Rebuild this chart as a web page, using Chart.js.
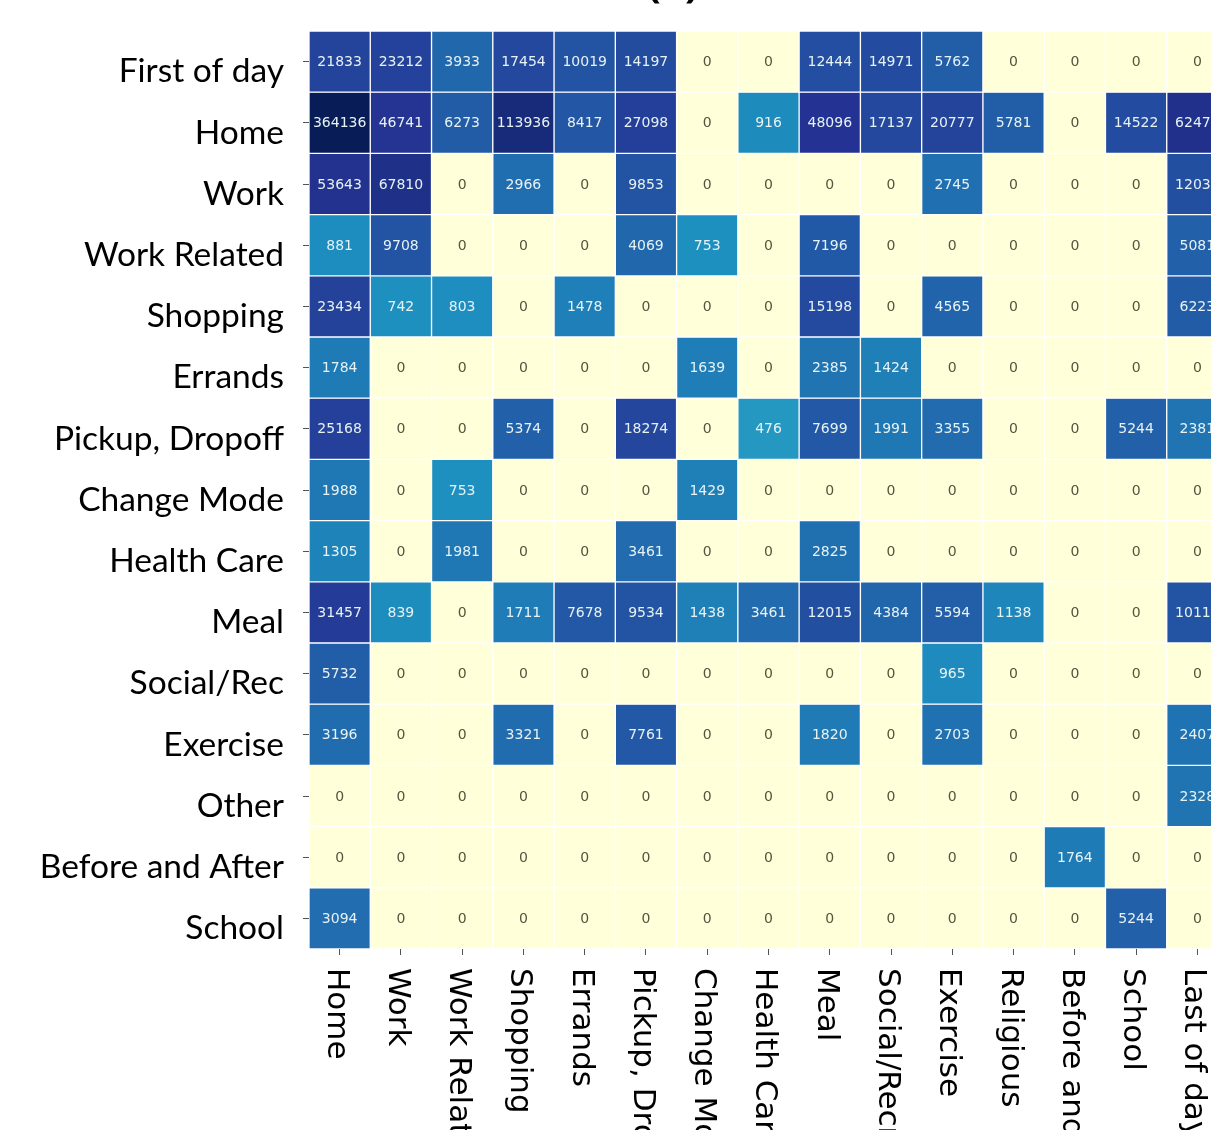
<!DOCTYPE html>
<html>
<head>
  <title>Trip purpose transitions</title>
  <script src="https://cdn.jsdelivr.net/npm/chart.js"></script>
  <style>
    html, body { margin: 0; padding: 0; background: #fff; overflow: hidden; }
    #wrap { position: absolute; left: 0; top: 0; }
  </style>
</head>
<body>
<div id="wrap">
  <canvas id="heat" width="1228" height="1130"></canvas>
</div>

<script>
  // rows = from purpose, columns = to purpose
  const rowLabels = ['First of day', 'Home', 'Work', 'Work Related', 'Shopping', 'Errands',
    'Pickup, Dropoff', 'Change Mode', 'Health Care', 'Meal', 'Social/Rec', 'Exercise',
    'Other', 'Before and After', 'School'];
  const colLabels = ['Home', 'Work', 'Work Related', 'Shopping', 'Errands', 'Pickup, Dropoff',
    'Change Mode', 'Health Care', 'Meal', 'Social/Recreation', 'Exercise', 'Religious',
    'Before and After', 'School', 'Last of day'];

  const firstOfDay   = [21833, 23212, 3933, 17454, 10019, 14197, 0, 0, 12444, 14971, 5762, 0, 0, 0, 0];
  const home         = [364136, 46741, 6273, 113936, 8417, 27098, 0, 916, 48096, 17137, 20777, 5781, 0, 14522, 62475];
  const work         = [53643, 67810, 0, 2966, 0, 9853, 0, 0, 0, 0, 2745, 0, 0, 0, 12035];
  const workRelated  = [881, 9708, 0, 0, 0, 4069, 753, 0, 7196, 0, 0, 0, 0, 0, 5081];
  const shopping     = [23434, 742, 803, 0, 1478, 0, 0, 0, 15198, 0, 4565, 0, 0, 0, 6223];
  const errands      = [1784, 0, 0, 0, 0, 0, 1639, 0, 2385, 1424, 0, 0, 0, 0, 0];
  const pickup       = [25168, 0, 0, 5374, 0, 18274, 0, 476, 7699, 1991, 3355, 0, 0, 5244, 2381];
  const changeMode   = [1988, 0, 753, 0, 0, 0, 1429, 0, 0, 0, 0, 0, 0, 0, 0];
  const healthCare   = [1305, 0, 1981, 0, 0, 3461, 0, 0, 2825, 0, 0, 0, 0, 0, 0];
  const meal         = [31457, 839, 0, 1711, 7678, 9534, 1438, 3461, 12015, 4384, 5594, 1138, 0, 0, 10117];
  const socialRec    = [5732, 0, 0, 0, 0, 0, 0, 0, 0, 0, 965, 0, 0, 0, 0];
  const exercise     = [3196, 0, 0, 3321, 0, 7761, 0, 0, 1820, 0, 2703, 0, 0, 0, 2407];
  const other        = [0, 0, 0, 0, 0, 0, 0, 0, 0, 0, 0, 0, 0, 0, 2328];
  const beforeAfter  = [0, 0, 0, 0, 0, 0, 0, 0, 0, 0, 0, 0, 1764, 0, 0];
  const school       = [3094, 0, 0, 0, 0, 0, 0, 0, 0, 0, 0, 0, 0, 5244, 0];

  const values = [firstOfDay, home, work, workRelated, shopping, errands, pickup, changeMode,
    healthCare, meal, socialRec, exercise, other, beforeAfter, school];

  // YlGnBu, log colour scale
  const stops = ['#ffffd9', '#edf8b1', '#c7e9b4', '#7fcdbb', '#41b6c4', '#1d91c0', '#225ea8', '#253494', '#081d58'];
  const logLo = -1.64, logHi = 5.56;

  function hexToRgb(h) {
    return [parseInt(h.slice(1, 3), 16), parseInt(h.slice(3, 5), 16), parseInt(h.slice(5, 7), 16)];
  }
  function cellColor(v) {
    let t = v <= 0 ? 0 : (Math.log10(v) - logLo) / (logHi - logLo);
    t = Math.max(0, Math.min(1, t));
    const pos = t * (stops.length - 1);
    const i = Math.min(Math.floor(pos), stops.length - 2);
    const f = pos - i;
    const a = hexToRgb(stops[i]), b = hexToRgb(stops[i + 1]);
    const c = a.map((x, k) => Math.round(x + (b[k] - x) * f));
    return `rgb(${c[0]}, ${c[1]}, ${c[2]})`;
  }

  // one stacked dataset per row, each cell one unit tall
  const datasets = values.map((row, r) => ({
    label: rowLabels[r],
    data: row.map(() => 1),
    cellValues: row,
    backgroundColor: row.map(cellColor),
    borderColor: '#ffffff',
    borderWidth: 1,
    borderSkipped: false,
    barPercentage: 1,
    categoryPercentage: 1
  }));

  const cellText = {
    id: 'cellText',
    afterDatasetsDraw(chart) {
      const ctx = chart.ctx;
      ctx.save();
      ctx.font = '14px "DejaVu Sans"';
      ctx.textAlign = 'center';
      ctx.textBaseline = 'middle';
      chart.data.datasets.forEach((ds, r) => {
        chart.getDatasetMeta(r).data.forEach((bar, c) => {
          const v = ds.cellValues[c];
          ctx.fillStyle = v > 0 ? '#e6f2f4' : '#55553f';
          ctx.fillText(String(v), bar.x, (bar.y + bar.base) / 2 + 1);
        });
      });
      ctx.restore();
    }
  };

  // x labels read top to bottom
  const xLabels = {
    id: 'xLabels',
    afterDraw(chart) {
      const ctx = chart.ctx;
      const xs = chart.scales.x;
      ctx.save();
      ctx.font = '31px "DejaVu Sans"';
      ctx.fillStyle = '#000';
      ctx.textAlign = 'left';
      ctx.textBaseline = 'middle';
      colLabels.forEach((lab, i) => {
        const x = xs.getPixelForTick(i) - 4;
        ctx.save();
        ctx.translate(x, chart.chartArea.bottom + 19);
        ctx.rotate(Math.PI / 2);
        ctx.fillText(lab, 0, 0);
        ctx.restore();
      });
      // panel letter, mostly cut off at the top
      ctx.font = 'bold 40px "Open Sans"';
      ctx.textAlign = 'center';
      ctx.textBaseline = 'alphabetic';
      ctx.fillText('(a)', 673, -3);
      ctx.restore();
    }
  };

  new Chart(document.getElementById('heat'), {
    type: 'bar',
    data: { labels: colLabels, datasets: datasets },
    plugins: [cellText, xLabels],
    options: {
      responsive: false,
      animation: false,
      layout: { padding: { top: 31, left: 0, right: 0, bottom: 0 } },
      plugins: { legend: { display: false }, tooltip: { enabled: false } },
      scales: {
        x: {
          stacked: true,
          offset: true,
          border: { display: false },
          grid: { offset: false, drawOnChartArea: false, drawTicks: true, tickLength: 6, color: '#555' },
          ticks: { display: false },
          afterFit(scale) {
            scale.height = 181;
            scale.paddingLeft = 0;
            scale.paddingRight = 0;
          }
        },
        y: {
          stacked: true,
          reverse: true,
          min: 0,
          max: rowLabels.length,
          border: { display: false },
          grid: { drawOnChartArea: false, drawTicks: true, tickLength: 6, color: '#555' },
          afterBuildTicks(scale) {
            scale.ticks = rowLabels.map((_, i) => ({ value: i + 0.5 }));
          },
          ticks: {
            autoSkip: false,
            padding: 19,
            labelOffset: 10,
            color: '#000',
            font: { family: 'Lato', size: 33.5 },
            callback: (v, i) => rowLabels[i]
          },
          afterFit(scale) {
            scale.width = 309;
            scale.paddingTop = 0;
            scale.paddingBottom = 0;
          }
        }
      }
    }
  });
</script>
</body>
</html>
